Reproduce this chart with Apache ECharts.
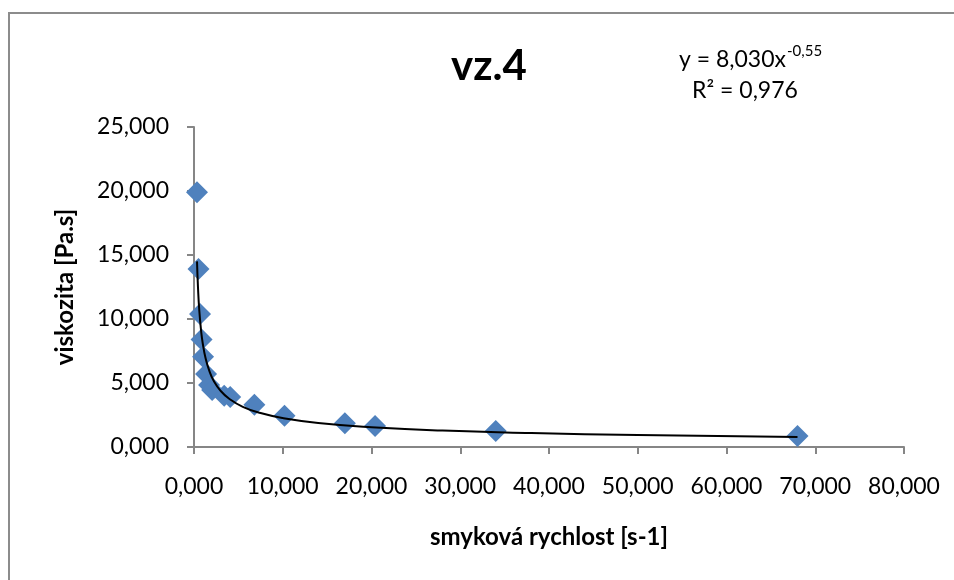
<!DOCTYPE html>
<html>
<head>
<meta charset="utf-8">
<title>vz.4</title>
<script src="https://cdn.jsdelivr.net/npm/echarts@6/dist/echarts.min.js"></script>
<style>
  html, body { margin: 0; padding: 0; background: #fff; }
  #chart { width: 954px; height: 580px; }
</style>
</head>
<body>
<div id="chart"></div>
<script>
// naměřené body (smyková rychlost, viskozita)
var shearRate = [0.34, 0.51, 0.68, 0.85, 1.02, 1.36, 1.7, 2.04, 3.4, 4.08, 6.8, 10.2, 17, 20.4, 34, 68];
var viscosity = [19.9, 13.9, 10.4, 8.4, 7.05, 5.7, 4.85, 4.45, 4.0, 3.9, 3.3, 2.45, 1.85, 1.65, 1.25, 0.85];

// spojnice trendu
var trendX = [0.34, 0.45, 0.6, 0.8, 1, 1.3, 1.7, 2.2, 3, 4, 5.5, 7.5, 10, 14, 20, 28, 38, 50, 68];
var trendY = [14.5, 12.46, 10.63, 9.08, 8.03, 6.95, 6.0, 5.2, 4.39, 3.75, 3.14, 2.65, 2.26, 1.88, 1.55, 1.28, 1.09, 0.93, 0.79];

var xTicks = [0, 10, 20, 30, 40, 50, 60, 70, 80];
var yTicks = [0, 5, 10, 15, 20, 25];

(function () {
  var myChart = echarts.init(document.getElementById('chart'));
  var font = 'Lato, "Open Sans", sans-serif';
  var axisGray = '#868686';

  // čárka jako desetinný oddělovač
  function fmt(v) {
    return v.toFixed(3).replace('.', ',');
  }

  var option = {
    animation: false,
    grid: {
      left: 194,
      right: 50,
      top: 127,
      bottom: 133
    },
    xAxis: {
      type: 'value',
      min: xTicks[0],
      max: xTicks[xTicks.length - 1],
      interval: 10,
      name: 'smyková rychlost [s-1]',
      nameLocation: 'middle',
      nameGap: 78,
      nameTextStyle: { fontFamily: font, fontSize: 24, fontWeight: 'bold', color: '#000' },
      axisLine: { lineStyle: { color: axisGray, width: 2 } },
      axisTick: { length: 7, lineStyle: { color: axisGray, width: 2 } },
      axisLabel: {
        margin: 28,
        fontFamily: font,
        fontSize: 23,
        color: '#000',
        formatter: fmt
      },
      splitLine: { show: false }
    },
    yAxis: {
      type: 'value',
      min: yTicks[0],
      max: yTicks[yTicks.length - 1],
      interval: 5,
      name: 'viskozita [Pa.s]',
      nameLocation: 'middle',
      nameGap: 117,
      nameTextStyle: { fontFamily: font, fontSize: 24, fontWeight: 'bold', color: '#000' },
      axisLine: { show: true, lineStyle: { color: axisGray, width: 2 } },
      axisTick: { show: true, length: 7, lineStyle: { color: axisGray, width: 2 } },
      axisLabel: {
        margin: 25,
        fontFamily: font,
        fontSize: 23,
        color: '#000',
        formatter: fmt
      },
      splitLine: { show: false }
    },
    graphic: [
      {
        // rámeček grafu
        type: 'polyline',
        shape: { points: [[9, 600], [9, 13], [980, 13]] },
        style: { stroke: '#8c8c8c', lineWidth: 2, fill: null }
      },
      {
        type: 'text',
        style: {
          text: 'vz.4',
          x: 489, y: 66,
          align: 'center', verticalAlign: 'middle',
          fontFamily: font, fontSize: 42, fontWeight: 'bold', fill: '#000'
        }
      },
      {
        type: 'text',
        style: {
          text: 'y = 8,030x',
          x: 786, y: 60,
          align: 'right', verticalAlign: 'middle',
          fontFamily: font, fontSize: 23, fill: '#000'
        }
      },
      {
        type: 'text',
        style: {
          text: '-0,55',
          x: 787, y: 51,
          align: 'left', verticalAlign: 'middle',
          fontFamily: font, fontSize: 15, fill: '#000'
        }
      },
      {
        type: 'text',
        style: {
          text: 'R² = 0,976',
          x: 745, y: 91,
          align: 'center', verticalAlign: 'middle',
          fontFamily: font, fontSize: 23, fill: '#000'
        }
      }
    ],
    series: [
      {
        name: 'viskozita',
        type: 'scatter',
        symbol: 'diamond',
        symbolSize: 22,
        itemStyle: { color: '#4f81bd', opacity: 1 },
        data: shearRate.map(function (x, i) { return [x, viscosity[i]]; }),
        z: 2
      },
      {
        name: 'trend',
        type: 'line',
        smooth: true,
        showSymbol: false,
        lineStyle: { color: '#000', width: 2 },
        data: trendX.map(function (x, i) { return [x, trendY[i]]; }),
        z: 3
      }
    ]
  };

  myChart.setOption(option);
  window.addEventListener('resize', () => myChart.resize());
})();
</script>
</body>
</html>
